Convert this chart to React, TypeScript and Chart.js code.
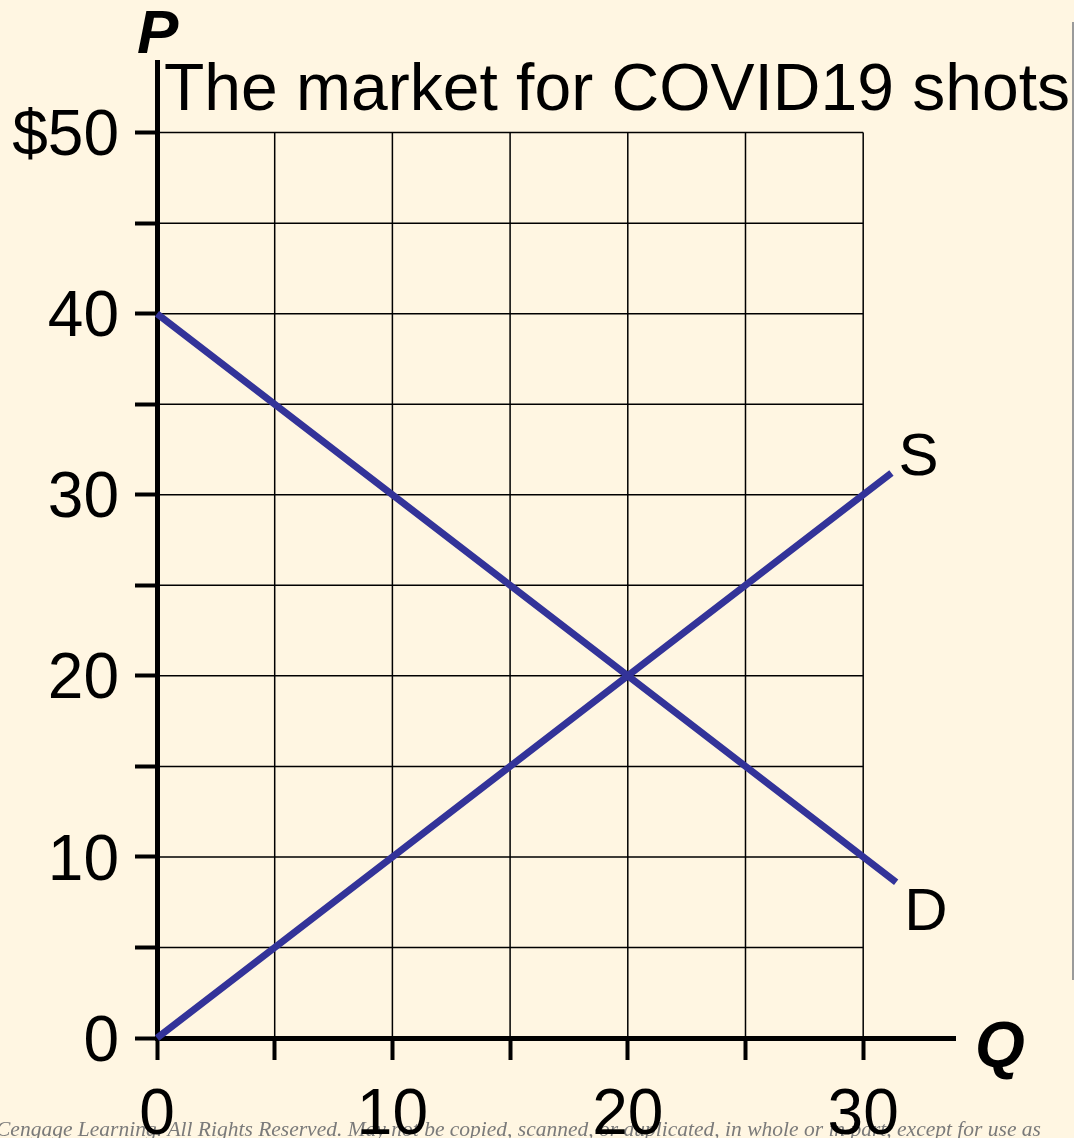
import React, { useEffect, useRef } from "react";
import { Chart, registerables } from "chart.js";

Chart.register(...registerables);

// ---- data ----
const supplyQ = [0, 10, 20, 31.2];
const supplyP = [0, 10, 20, 31.2];
const demandQ = [0, 10, 20, 31.4];
const demandP = [40, 30, 20, 8.6];
const xTicks = [0, 5, 10, 15, 20, 25, 30];
const yTicks = [0, 5, 10, 15, 20, 25, 30, 35, 40, 45, 50];
const xLabelEvery = 10;
const yLabelEvery = 10;
const xMax = 33.9;
const yMax = 53.9;
const gridXMax = 30;
const gridYMax = 50;
const titleText = "The market for COVID19 shots";
const copyrightText =
  "Cengage Learning. All Rights Reserved. May not be copied, scanned, or duplicated, in whole or in part, except for use as";

const BG = "#FFF6E2";
const LINE = "#333399";
const SANS = "'Liberation Sans', Arial, sans-serif";

const overlayPlugin = {
  id: "overlay",
  beforeDraw(chart: any) {
    const ctx = chart.ctx;
    ctx.save();
    ctx.fillStyle = BG;
    ctx.fillRect(0, 0, chart.width, chart.height);
    // right-side gray rule
    ctx.strokeStyle = "#9a9a9a";
    ctx.lineWidth = 2;
    ctx.beginPath();
    ctx.moveTo(1073, 22);
    ctx.lineTo(1073, 980);
    ctx.stroke();
    // copyright
    ctx.fillStyle = "#7a7a7a";
    ctx.font = "italic 21.5px 'Liberation Serif', 'DejaVu Serif', serif";
    ctx.textBaseline = "alphabetic";
    ctx.textAlign = "left";
    ctx.fillText(copyrightText, -4, 1136);
    ctx.restore();
  },
  beforeDatasetsDraw(chart: any) {
    const ctx = chart.ctx;
    const xs = chart.scales.x;
    const ys = chart.scales.y;
    ctx.save();
    ctx.strokeStyle = "#000";
    ctx.lineWidth = 1.5;
    const x0 = xs.getPixelForValue(0);
    const x1 = xs.getPixelForValue(gridXMax);
    const y0 = ys.getPixelForValue(0);
    const y1 = ys.getPixelForValue(gridYMax);
    ctx.beginPath();
    for (const v of xTicks) {
      if (v === 0) continue;
      const px = xs.getPixelForValue(v);
      ctx.moveTo(px, y0);
      ctx.lineTo(px, y1);
    }
    for (const v of yTicks) {
      if (v === 0) continue;
      const py = ys.getPixelForValue(v);
      ctx.moveTo(x0, py);
      ctx.lineTo(x1, py);
    }
    ctx.stroke();
    ctx.restore();
  },
  afterDraw(chart: any) {
    const ctx = chart.ctx;
    const xs = chart.scales.x;
    const ys = chart.scales.y;
    ctx.save();
    ctx.fillStyle = "#000";
    ctx.textBaseline = "alphabetic";
    ctx.textAlign = "left";
    // title
    ctx.font = `66px ${SANS}`;
    ctx.fillText(titleText, 164, 110);
    // axis names
    ctx.font = `italic bold 62px ${SANS}`;
    ctx.fillText("P", 137, 53);
    ctx.font = `italic bold 64px ${SANS}`;
    ctx.fillText("Q", 975, 1067);
    // curve labels
    ctx.font = `60px ${SANS}`;
    const sx = xs.getPixelForValue(supplyQ[supplyQ.length - 1]);
    const sy = ys.getPixelForValue(supplyP[supplyP.length - 1]);
    ctx.fillText("S", sx + 7, sy + 2);
    const dx = xs.getPixelForValue(demandQ[demandQ.length - 1]);
    const dy = ys.getPixelForValue(demandP[demandP.length - 1]);
    ctx.fillText("D", dx + 8, dy + 48);
    ctx.restore();
  },
};

export default function App() {
  const ref = useRef<HTMLCanvasElement | null>(null);
  useEffect(() => {
    if (!ref.current) return;
    const chart = new Chart(ref.current, {
      type: "line",
      data: {
        datasets: [
          {
            label: "S",
            data: supplyQ.map((q, i) => ({ x: q, y: supplyP[i] })),
            borderColor: LINE,
            borderWidth: 7,
            pointRadius: 0,
            borderCapStyle: "butt",
            clip: false as any,
            tension: 0,
          },
          {
            label: "D",
            data: demandQ.map((q, i) => ({ x: q, y: demandP[i] })),
            borderColor: LINE,
            borderWidth: 7,
            pointRadius: 0,
            borderCapStyle: "butt",
            clip: false as any,
            tension: 0,
          },
        ],
      },
      options: {
        responsive: false,
        animation: false,
        devicePixelRatio: 1,
        layout: { padding: { top: 62, right: 119, left: 0, bottom: 0 } },
        plugins: { legend: { display: false }, tooltip: { enabled: false } },
        scales: {
          x: {
            type: "linear",
            min: 0,
            max: xMax,
            afterFit: (s: any) => {
              s.height = 100;
            },
            afterBuildTicks: (s: any) => {
              s.ticks = xTicks.map((v) => ({ value: v }));
            },
            grid: {
              drawOnChartArea: false,
              drawTicks: true,
              tickLength: 22,
              tickWidth: 4,
              tickColor: "#000",
            },
            border: { display: true, color: "#000", width: 5 },
            ticks: {
              autoSkip: false,
              maxRotation: 0,
              padding: 18,
              color: "#000",
              font: { family: SANS, size: 64 },
              callback: (v: any) => (Number(v) % xLabelEvery === 0 ? String(v) : ""),
            },
          },
          y: {
            type: "linear",
            min: 0,
            max: yMax,
            afterFit: (s: any) => {
              s.width = 157;
            },
            afterBuildTicks: (s: any) => {
              s.ticks = yTicks.map((v) => ({ value: v }));
            },
            grid: {
              drawOnChartArea: false,
              drawTicks: true,
              tickLength: 22,
              tickWidth: 4,
              tickColor: "#000",
            },
            border: { display: true, color: "#000", width: 5 },
            ticks: {
              autoSkip: false,
              padding: 16,
              labelOffset: 5,
              color: "#000",
              font: { family: SANS, size: 64 },
              callback: (v: any) => {
                const n = Number(v);
                if (n % yLabelEvery !== 0) return "";
                return n === 50 ? "$50" : String(n);
              },
            },
          },
        },
      },
      plugins: [overlayPlugin],
    } as any);
    return () => chart.destroy();
  }, []);
  return (
    <div
      style={{
        position: "absolute",
        left: 0,
        top: 0,
        width: 1074,
        height: 1138,
        background: BG,
        overflow: "hidden",
      }}
    >
      <canvas ref={ref} width={1074} height={1138} style={{ display: "block" }} />
    </div>
  );
}
